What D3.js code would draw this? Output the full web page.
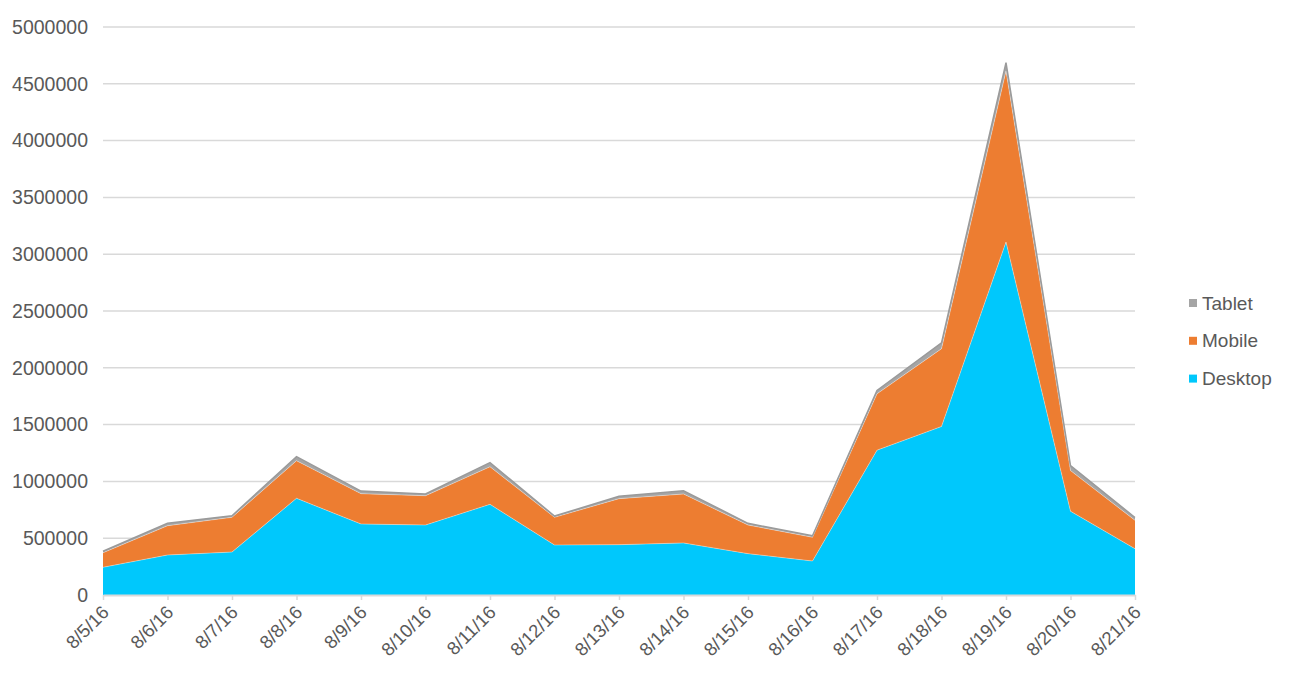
<!DOCTYPE html>
<html><head><meta charset="utf-8">
<script src="https://cdn.jsdelivr.net/npm/d3@7"></script>
<style>body{margin:0;background:#fff;font-family:"Liberation Sans",Arial,sans-serif;}</style>
</head><body><svg id="c" width="1299" height="680"></svg>
<script>
const dates = ["8/5/16","8/6/16","8/7/16","8/8/16","8/9/16","8/10/16","8/11/16","8/12/16","8/13/16","8/14/16","8/15/16","8/16/16","8/17/16","8/18/16","8/19/16","8/20/16","8/21/16"];
const desktop = [244000,352000,378000,851000,625000,616000,798000,440000,443000,458000,364000,299000,1275000,1483000,3107000,737000,407000];
const mobile  = [128000,258000,306000,331000,267000,258000,331000,244000,405000,431000,252000,209000,496000,685000,1505000,358000,250000];
const tablet  = [13000,21000,14000,36000,23000,15000,36000,11000,21000,29000,15000,14000,29000,52000,74000,45000,25000];
const yTicks = [0,500000,1000000,1500000,2000000,2500000,3000000,3500000,4000000,4500000,5000000];
const seriesNames = ["Desktop","Mobile","Tablet"];
const colors = {Desktop:"#00c8fc", Mobile:"#ed7d31", Tablet:"#a5a5a5"};

const rows = dates.map((d,i)=>({date:d, Desktop:desktop[i], Mobile:mobile[i], Tablet:tablet[i]}));
const stack = d3.stack().keys(seriesNames)(rows);

const svg = d3.select("#c");
const L=103, R=1135, T=27, B=595;
const x = d3.scalePoint().domain(dates).range([L,R]);
const y = d3.scaleLinear().domain([0,5000000]).range([B,T]);

// gridlines
svg.append("g").selectAll("line").data(yTicks.filter(v=>v>0)).join("line")
  .attr("x1",L).attr("x2",R).attr("y1",d=>y(d)).attr("y2",d=>y(d))
  .attr("stroke","#d9d9d9").attr("stroke-width",1.5);

// areas
const area = d3.area().x((d,i)=>x(dates[i])).y0(d=>y(d[0])).y1(d=>y(d[1]));
svg.append("g").selectAll("path").data(stack).join("path")
  .attr("d",area).attr("fill",d=>colors[d.key]);
// thin top edges
const topLine = d3.line().x((d,i)=>x(dates[i])).y(d=>y(d[1]));
svg.append("g").selectAll("path").data(stack).join("path")
  .attr("d",topLine).attr("fill","none")
  .attr("stroke",d=>d.key==="Tablet"?"#9a9a9a":"rgba(255,255,255,0.35)")
  .attr("stroke-width",d=>d.key==="Tablet"?1.5:1);

// y axis labels
const yAxis = d3.axisLeft(y).tickValues(yTicks).tickFormat(d3.format("d")).tickSize(0).tickPadding(15);
const gy = svg.append("g").attr("transform",`translate(${L},0)`).call(yAxis);
gy.select(".domain").remove();
gy.selectAll("text").attr("font-size","19.5px").attr("fill","#595959").attr("font-family","Liberation Sans, Arial, sans-serif");

// x axis
const xAxis = d3.axisBottom(x).tickSize(5).tickSizeOuter(0).tickPadding(4);
const gx = svg.append("g").attr("transform",`translate(0,${B})`).call(xAxis);
gx.select(".domain").attr("stroke","#d9d9d9").attr("stroke-width",2);
gx.selectAll(".tick line").attr("stroke","#d9d9d9").attr("stroke-width",1.5);
gx.selectAll("text").attr("font-size","18.5px").attr("fill","#595959")
  .attr("font-family","Liberation Sans, Arial, sans-serif")
  .attr("text-anchor","end").attr("dy","0.35em")
  .attr("transform","translate(2,14) rotate(-45)");
gx.selectAll("text").attr("y",0).attr("x",0);

// legend
const legendItems = ["Tablet","Mobile","Desktop"];
const lg = svg.append("g");
legendItems.forEach((k,i)=>{
  const yy = 303 + i*37.8;
  lg.append("rect").attr("x",1189).attr("y",yy-4).attr("width",8).attr("height",8).attr("fill",colors[k]);
  lg.append("text").attr("x",1202).attr("y",yy).attr("dy","0.35em").text(k)
    .attr("font-size","19px").attr("fill","#595959");
});
</script></body></html>
